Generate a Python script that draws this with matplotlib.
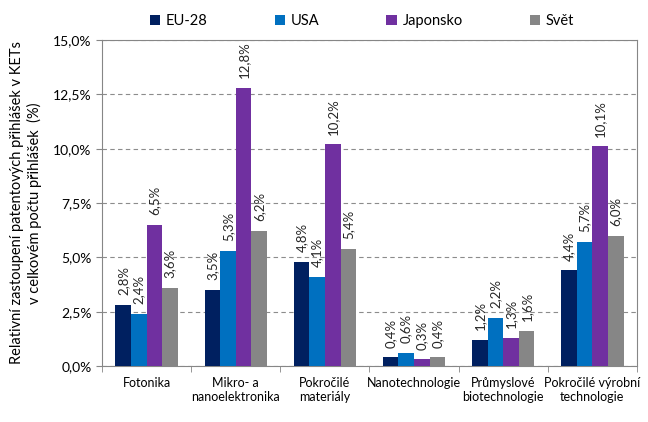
import numpy as np
import matplotlib
matplotlib.use("Agg")
import matplotlib.pyplot as plt
from matplotlib.ticker import FuncFormatter, MultipleLocator

plt.rcParams['font.family'] = ['Lato', 'DejaVu Sans']

categories = ["Fotonika", "Mikro- a\nnanoelektronika", "Pokročilé\nmateriály",
              "Nanotechnologie", "Průmyslové\nbiotechnologie", "Pokročilé výrobní\ntechnologie"]
series = ["EU-28", "USA", "Japonsko", "Svět"]
eu = [2.8, 3.5, 4.8, 0.4, 1.2, 4.4]
usa = [2.4, 5.3, 4.1, 0.6, 2.2, 5.7]
jp = [6.5, 12.8, 10.2, 0.3, 1.3, 10.1]
svet = [3.6, 6.2, 5.4, 0.4, 1.6, 6.0]
colors = ["#002060", "#0070C0", "#7030A0", "#868686"]

fig = plt.figure(figsize=(6.48, 4.22), dpi=100)
ax = fig.add_axes([102/648, 1-366/422, 535/648, 326/422])

x = np.arange(len(categories))
w = 0.175
for i, (vals, c, name) in enumerate(zip([eu, usa, jp, svet], colors, series)):
    pos = x + (i - 1.5) * w
    ax.bar(pos, vals, w, color=c, label=name, zorder=3)
    for p, v in zip(pos, vals):
        ax.text(p, v + 0.45, f"{v:.1f}%".replace(".", ","), rotation=90,
                ha="center", va="bottom", fontsize=9.5, color="#262626")

ax.set_xlim(-0.5, len(categories) - 0.5)
ax.set_ylim(0, 15)
ax.yaxis.set_major_locator(MultipleLocator(2.5))
ax.yaxis.set_major_formatter(FuncFormatter(lambda v, p: f"{v:.1f}%".replace(".", ",")))
ax.grid(axis="y", color="#8c8c8c", linestyle=(0, (4, 3)), linewidth=0.8, zorder=0)
ax.set_xticks(x)
ax.set_xticklabels(categories, fontsize=9)
ax.set_xticks(np.arange(-0.5, len(categories)), minor=True)
ax.tick_params(axis="x", which="major", length=0, pad=8)
ax.tick_params(axis="x", which="minor", length=4, color="#868686")
ax.tick_params(axis="y", length=4, color="#868686", labelsize=10)
for s in ax.spines.values():
    s.set_color("#868686")

ax.set_ylabel("Relativní zastoupení patentových přihlášek v KETs\nv celkovém počtu přihlášek  (%)",
              fontsize=10.5, labelpad=8)

fig.legend(loc="center", bbox_to_anchor=(362/648, 1 - 21/422), ncol=4, frameon=False,
           fontsize=10.5, handlelength=0.7, handleheight=0.7, handletextpad=0.4,
           columnspacing=4.6)

fig.savefig("out.png", dpi=100)
